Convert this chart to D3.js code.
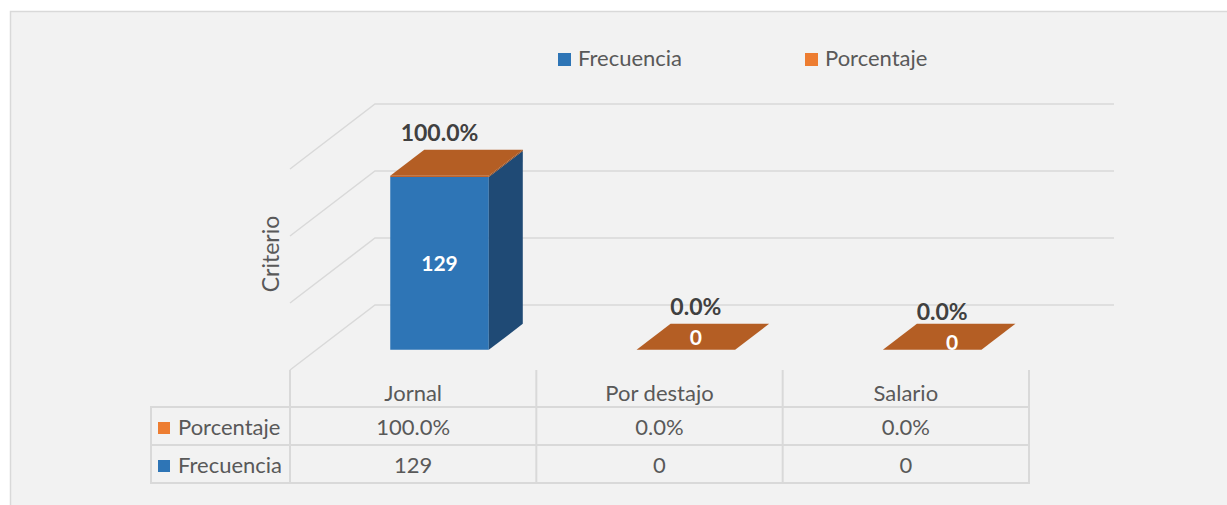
<!DOCTYPE html>
<html>
<head>
<meta charset="utf-8">
<script src="https://cdn.jsdelivr.net/npm/d3@7"></script>
<style>
  body { margin: 0; background: #fff; }
  text { font-family: Lato, "Open Sans", sans-serif; }
</style>
</head>
<body>
<script>
// data
var categories = ["Jornal", "Por destajo", "Salario"];
var frecuencia = [129, 0, 0];
var porcentaje = [1.0, 0, 0];
var seriesNames = ["Frecuencia", "Porcentaje"];
var yTicks = [0, 50, 100, 150];

var W = 1227, H = 505;
var fmtPct = d3.format(".1%");

var svg = d3.select("body").append("svg").attr("width", W).attr("height", H);

// chart area
svg.append("rect").attr("x", 10.5).attr("y", 11.5).attr("width", W + 10).attr("height", H + 10)
  .style("fill", "#f2f2f2").style("stroke", "#d9d9d9").style("stroke-width", 1.5);

// 3d geometry
var depthX = 85, depthY = -65;
var zFront = 0.31, zBack = 0.71;
function proj(x, y, z) { return [x + z * depthX, y + z * depthY]; }

var x = d3.scaleBand().domain(categories).range([290, 1029]);
var y = d3.scaleLinear().domain([0, 150]).range([370, 169]);
var barW = x.bandwidth() * 0.4;

// gridlines: side wall + back wall
var grid = svg.append("g");
yTicks.forEach(function (t) {
  var a = proj(290, y(t), 0), b = proj(290, y(t), 1), c = proj(1029, y(t), 1);
  grid.append("path").attr("d", "M" + a + "L" + b + "L" + c)
    .style("fill", "none").style("stroke", "#d9d9d9").style("stroke-width", 1.5);
});

// stacked data
var rows = categories.map(function (c, i) { return { cat: c, Frecuencia: frecuencia[i], Porcentaje: porcentaje[i] }; });
var stack = d3.stack().keys(seriesNames)(rows);

var colors = {
  Frecuencia: { front: "#2e75b6", side: "#1f4a75", top: "#2a69a4" },
  Porcentaje: { front: "#c0632a", side: "#8f4a1e", top: "#b45e24" }
};

function poly(pts) { return "M" + pts.join("L") + "Z"; }

var bars = svg.append("g");
stack.forEach(function (s, si) {
  s.forEach(function (d, i) {
    var cat = categories[i];
    var x0 = x(cat) + (x.bandwidth() - barW) / 2, x1 = x0 + barW;
    var yb = y(d[0]), yt = y(d[1]);
    var col = colors[s.key];
    var isTop = si === stack.length - 1;
    if (yb - yt > 0.1) {
      bars.append("path").attr("d", poly([proj(x0, yb, zFront), proj(x1, yb, zFront), proj(x1, yt, zFront), proj(x0, yt, zFront)]))
        .style("fill", col.front);
      bars.append("path").attr("d", poly([proj(x1, yb, zFront), proj(x1, yb, zBack), proj(x1, yt, zBack), proj(x1, yt, zFront)]))
        .style("fill", col.side);
    }
    if (isTop) {
      bars.append("path").attr("d", poly([proj(x0, yt, zFront), proj(x1, yt, zFront), proj(x1, yt, zBack), proj(x0, yt, zBack)]))
        .style("fill", col.top);
    }
  });
});

// data labels
var labels = svg.append("g");
categories.forEach(function (c, i) {
  var cx = x(c) + x.bandwidth() / 2;
  var f = proj(cx, 0, zFront)[0];
  var topY = y(frecuencia[i] + porcentaje[i]);
  var dx = frecuencia[i] > 0 ? 0 : 10;
  var backY = proj(cx, topY, zBack)[1];
  labels.append("text").attr("x", f + dx).attr("y", backY - 9 + (i === 2 ? 5 : 0))
    .attr("text-anchor", "middle").style("font-size", "23px").style("font-weight", "bold")
    .style("fill", "#404040").text(fmtPct(porcentaje[i]));
  var midY = frecuencia[i] > 0 ? (y(0) + y(frecuencia[i])) / 2 + zFront * depthY : proj(cx, y(0), (zFront + zBack) / 2)[1];
  labels.append("text").attr("x", f + dx + (i === 2 ? 10 : 0)).attr("y", midY + 8 + (i === 2 ? 5 : 0))
    .attr("text-anchor", "middle").style("font-size", "21px").style("font-weight", "bold")
    .style("fill", "#fff").text(frecuencia[i]);
});

// axis title
svg.append("text").attr("transform", "translate(279,254) rotate(-90)")
  .attr("text-anchor", "middle").style("font-size", "23px").style("fill", "#595959").text("Criterio");

// legend
var legend = svg.append("g");
var legX = [558, 805];
seriesNames.forEach(function (n, i) {
  legend.append("rect").attr("x", legX[i]).attr("y", 53).attr("width", 13).attr("height", 13)
    .style("fill", n === "Frecuencia" ? "#2e75b6" : "#ed7d31");
  legend.append("text").attr("x", legX[i] + 20).attr("y", 66).style("font-size", "22px")
    .style("fill", "#595959").text(n);
});

// data table
var table = svg.append("g");
var lineCol = "#d9d9d9";
var rowY = [370, 407, 445, 483];
var colX = [290].concat(categories.map(function (c) { return x(c) + x.bandwidth(); }));
colX.forEach(function (cx) {
  table.append("line").attr("x1", cx).attr("x2", cx).attr("y1", 370).attr("y2", 483)
    .style("stroke", lineCol).style("stroke-width", 2);
});
table.append("line").attr("x1", 151).attr("x2", 151).attr("y1", 407).attr("y2", 483)
  .style("stroke", lineCol).style("stroke-width", 2);
rowY.slice(1).forEach(function (ry) {
  table.append("line").attr("x1", 150).attr("x2", 1030).attr("y1", ry).attr("y2", ry)
    .style("stroke", lineCol).style("stroke-width", 2);
});
categories.forEach(function (c) {
  table.append("text").attr("x", x(c) + x.bandwidth() / 2).attr("y", 401)
    .attr("text-anchor", "middle").style("font-size", "22px").style("fill", "#595959").text(c);
});
var tableRows = [
  { name: "Porcentaje", color: "#ed7d31", vals: porcentaje.map(fmtPct) },
  { name: "Frecuencia", color: "#2e75b6", vals: frecuencia.map(String) }
];
tableRows.forEach(function (r, ri) {
  var base = rowY[ri + 1] + 28;
  table.append("rect").attr("x", 158).attr("y", base - 13).attr("width", 12).attr("height", 12).style("fill", r.color);
  table.append("text").attr("x", 178).attr("y", base).style("font-size", "22px").style("fill", "#595959").text(r.name);
  categories.forEach(function (c, i) {
    table.append("text").attr("x", x(c) + x.bandwidth() / 2).attr("y", base)
      .attr("text-anchor", "middle").style("font-size", "22px").style("fill", "#595959").text(r.vals[i]);
  });
});
</script>
</body>
</html>
